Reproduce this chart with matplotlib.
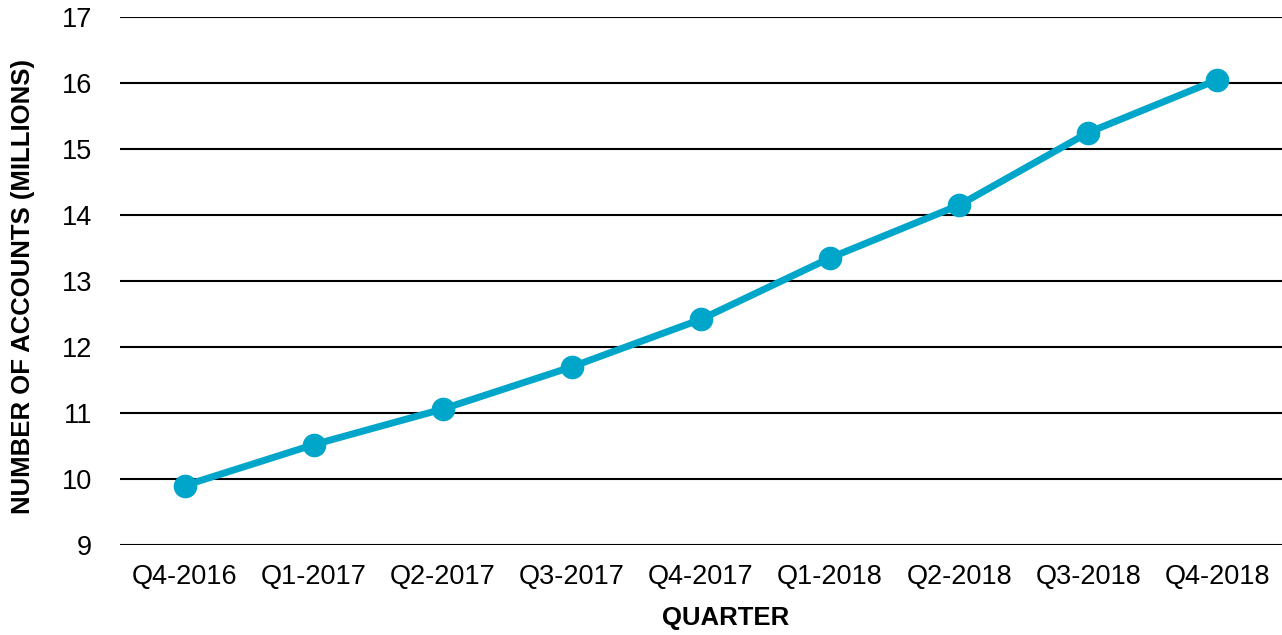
import matplotlib.pyplot as plt

# data
quarters = ["Q4-2016", "Q1-2017", "Q2-2017", "Q3-2017", "Q4-2017",
            "Q1-2018", "Q2-2018", "Q3-2018", "Q4-2018"]
accounts = [9.9, 10.52, 11.06, 11.7, 12.42, 13.35, 14.15, 15.25, 16.05]
y_ticks = [9, 10, 11, 12, 13, 14, 15, 16, 17]

plt.rcParams['font.family'] = ['Liberation Sans', 'DejaVu Sans']

fig = plt.figure(figsize=(12.82, 6.35), dpi=100)
ax = fig.add_axes([120 / 1282, 1 - 545 / 635, 1 - 120 / 1282, (545 - 17) / 635])

ax.plot(range(len(quarters)), accounts, color="#00A6C9", linewidth=5,
        marker="o", markersize=16, zorder=3)

ax.set_ylim(9, 17)
ax.set_xlim(-0.5, len(quarters) - 0.5)
ax.set_yticks(y_ticks)
ax.set_xticks(range(len(quarters)))
ax.set_xticklabels(quarters)
ax.grid(axis="y", color="black", linewidth=1.5)
ax.set_axisbelow(True)
for s in ax.spines.values():
    s.set_visible(False)
ax.tick_params(length=0, labelsize=19.5, pad=14)
ax.tick_params(axis="y", pad=20)

ax.set_xlabel("QUARTER", fontsize=18.5, fontweight="bold")
ax.set_ylabel("NUMBER OF ACCOUNTS (MILLIONS)", fontsize=18.5, fontweight="bold")
ax.xaxis.set_label_coords(0.5215, -0.115)
ax.yaxis.set_label_coords(-0.073, 0.49)

fig.savefig("out.png", dpi=100)
